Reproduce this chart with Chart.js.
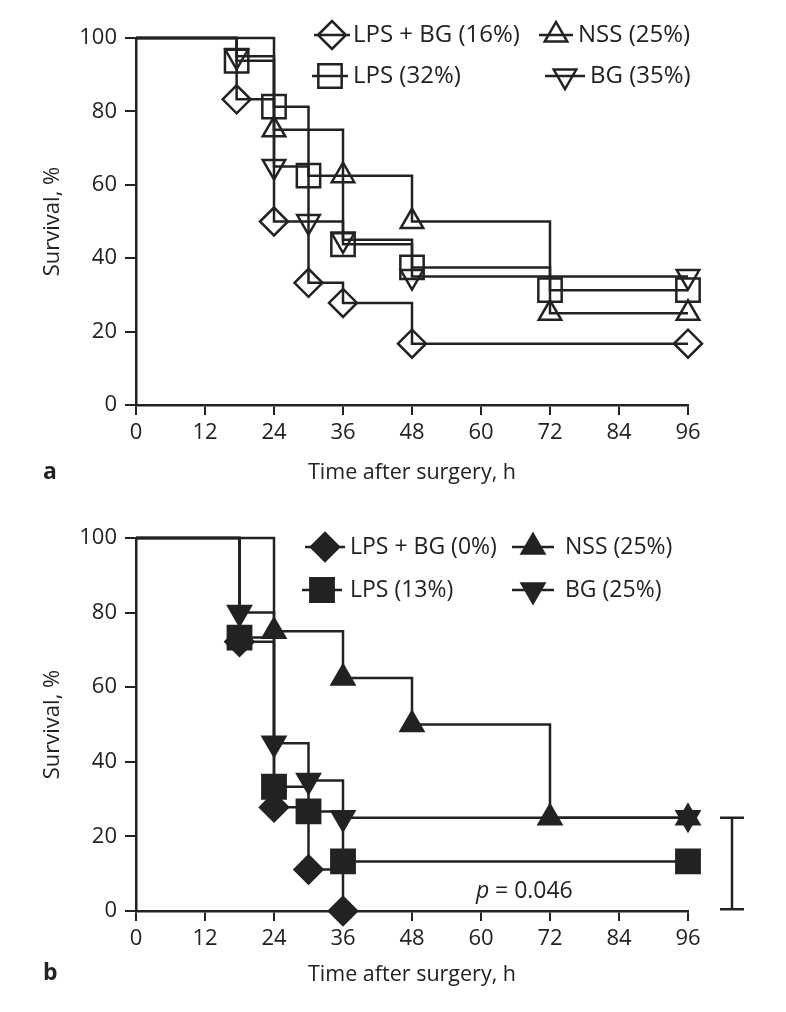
<!DOCTYPE html>
<html>
<head>
<meta charset="utf-8">
<title>Survival after surgery</title>
<script src="https://cdn.jsdelivr.net/npm/chart.js"></script>
<style>
    body { margin: 0; background: #fff; }
    .panel { position: absolute; left: 0; width: 786px; height: 506px; }
    #panelA { top: 0; }
    #panelB { top: 506px; }
</style>
</head>
<body>
<div class="panel" id="panelA"><canvas id="chartA" width="786" height="506"></canvas></div>
<div class="panel" id="panelB"><canvas id="chartB" width="786" height="506"></canvas></div>
<script>
// axis ticks
const hourTicks = [0, 12, 24, 36, 48, 60, 72, 84, 96];
const survivalTicks = [0, 20, 40, 60, 80, 100];
const groupNames = ['LPS + BG', 'LPS', 'NSS', 'BG'];

// panel a (open symbols)
const finalA = [16, 32, 25, 35];
const timeA_lpsbg = [0, 17.5, 24, 30, 36, 48, 96];
const survA_lpsbg = [100, 83.3, 50, 33.3, 27.8, 16.7, 16.7];
const timeA_lps = [0, 17.5, 24, 30, 36, 48, 72, 96];
const survA_lps = [100, 93.8, 81.3, 62.5, 43.8, 37.5, 31.3, 31.3];
const timeA_nss = [0, 24, 36, 48, 72, 96];
const survA_nss = [100, 75, 62.5, 50, 25, 25];
const timeA_bg = [0, 17.5, 24, 30, 36, 48, 96];
const survA_bg = [100, 95, 65, 50, 45, 35, 35];

// panel b (filled symbols)
const finalB = [0, 13, 25, 25];
const timeB_lpsbg = [0, 18, 24, 30, 36];
const survB_lpsbg = [100, 72.2, 27.8, 11.1, 0];
const timeB_lps = [0, 18, 24, 30, 36, 96];
const survB_lps = [100, 73.3, 33.3, 26.7, 13.3, 13.3];
const timeB_nss = [0, 24, 36, 48, 72, 96];
const survB_nss = [100, 75, 62.5, 50, 25, 25];
const timeB_bg = [0, 18, 24, 30, 36, 96];
const survB_bg = [100, 80, 45, 35, 25, 25];

const pValueText = '= 0.046';

const ink = '#222';
const font = '"Open Sans", "Noto Sans", sans-serif';

// marker shapes, in group order
const markers = [
    { pointStyle: 'rectRot', radius: 14, rotation: 0 },
    { pointStyle: 'rect', radius: 16.5, rotation: 0 },
    { pointStyle: 'triangle', radius: 13, rotation: 0 },
    { pointStyle: 'triangle', radius: 13, rotation: 180 }
];

function km(times, surv) {
    return times.map((t, i) => ({ x: t, y: surv[i] }));
}

function makeDataset(name, pct, times, surv, mk, filled) {
    return {
        label: name + ' (' + pct + '%)',
        data: km(times, surv),
        stepped: true,
        borderColor: ink,
        borderWidth: 2.5,
        clip: false,
        pointStyle: mk.pointStyle,
        pointRotation: mk.rotation,
        pointRadius: c => c.dataIndex === 0 ? 0 : mk.radius,
        pointHoverRadius: c => c.dataIndex === 0 ? 0 : mk.radius,
        pointBorderWidth: 2.5,
        pointBorderColor: ink,
        pointBackgroundColor: filled ? ink : 'rgba(0,0,0,0)'
    };
}

// legend, panel letter and extras drawn on top
function overlayPlugin(opts) {
    return {
        id: 'overlay',
        afterDraw(chart) {
            const ctx = chart.ctx;
            ctx.save();
            chart.data.datasets.forEach((ds, i) => {
                const it = opts.legend[i];
                const mk = markers[i];
                ctx.strokeStyle = ink;
                ctx.lineWidth = 2.5;
                ctx.beginPath();
                ctx.moveTo(it.mx - it.half, it.my);
                ctx.lineTo(it.mx + it.half, it.my);
                ctx.stroke();
                ctx.fillStyle = opts.filled ? ink : 'rgba(0,0,0,0)';
                Chart.helpers.drawPoint(ctx, {
                    pointStyle: mk.pointStyle,
                    radius: mk.radius,
                    rotation: mk.rotation,
                    borderWidth: 2.5
                }, it.mx, it.my);
                ctx.fillStyle = ink;
                ctx.font = opts.legendSize + 'px ' + font;
                ctx.textAlign = 'left';
                ctx.textBaseline = 'middle';
                ctx.fillText(ds.label, it.tx, it.my);
            });
            ctx.font = 'bold 23px ' + font;
            ctx.fillStyle = ink;
            ctx.textBaseline = 'middle';
            ctx.fillText(opts.letter, 43, opts.letterY);
            if (opts.extra) opts.extra(chart, ctx);
            ctx.restore();
        }
    };
}

function makeOptions(top, bottomPad, titlePad) {
    return {
        responsive: false,
        animation: false,
        layout: { padding: { left: 0, right: 98, top: top, bottom: 0 } },
        plugins: { legend: { display: false }, tooltip: { enabled: false } },
        scales: {
            x: {
                type: 'linear',
                min: 0,
                max: 96,
                afterBuildTicks: s => { s.ticks = hourTicks.map(v => ({ value: v })); },
                afterFit: s => { s.height = bottomPad; },
                grid: { drawOnChartArea: false, drawTicks: true, tickLength: 10, color: ink, lineWidth: 2 },
                border: { color: ink, width: 2.5 },
                ticks: { color: ink, font: { family: font, size: 22 }, padding: 5, maxRotation: 0 },
                title: {
                    display: true,
                    text: 'Time after surgery, h',
                    color: ink,
                    font: { family: font, size: 21.5 },
                    padding: { top: 0, bottom: titlePad }
                }
            },
            y: {
                min: 0,
                max: 100,
                afterBuildTicks: s => { s.ticks = survivalTicks.map(v => ({ value: v })); },
                afterFit: s => { s.width = 136; },
                grid: { drawOnChartArea: false, drawTicks: true, tickLength: 11, color: ink, lineWidth: 2 },
                border: { color: ink, width: 2.5 },
                ticks: { color: ink, font: { family: font, size: 22 }, padding: 8 },
                title: {
                    display: true,
                    text: 'Survival, %',
                    color: ink,
                    font: { family: font, size: 22 },
                    padding: { top: 40, bottom: 0 }
                }
            }
        }
    };
}

new Chart(document.getElementById('chartA'), {
    type: 'line',
    data: {
        datasets: [
            makeDataset(groupNames[0], finalA[0], timeA_lpsbg, survA_lpsbg, markers[0], false),
            makeDataset(groupNames[1], finalA[1], timeA_lps, survA_lps, markers[1], false),
            makeDataset(groupNames[2], finalA[2], timeA_nss, survA_nss, markers[2], false),
            makeDataset(groupNames[3], finalA[3], timeA_bg, survA_bg, markers[3], false)
        ]
    },
    options: makeOptions(38, 101, 20),
    plugins: [overlayPlugin({
        filled: false,
        legendSize: 24,
        letter: 'a',
        letterY: 472,
        legend: [
            { mx: 332, my: 35, half: 18, tx: 353 },
            { mx: 330, my: 76, half: 18, tx: 353 },
            { mx: 556, my: 35, half: 17, tx: 578 },
            { mx: 565, my: 76, half: 20, tx: 590 }
        ]
    })]
});

new Chart(document.getElementById('chartB'), {
    type: 'line',
    data: {
        datasets: [
            makeDataset(groupNames[0], finalB[0], timeB_lpsbg, survB_lpsbg, markers[0], true),
            makeDataset(groupNames[1], finalB[1], timeB_lps, survB_lps, markers[1], true),
            makeDataset(groupNames[2], finalB[2], timeB_nss, survB_nss, markers[2], true),
            makeDataset(groupNames[3], finalB[3], timeB_bg, survB_bg, markers[3], true)
        ]
    },
    options: makeOptions(32, 101, 24),
    plugins: [overlayPlugin({
        filled: true,
        legendSize: 23,
        letter: 'b',
        letterY: 467,
        legend: [
            { mx: 325, my: 41, half: 20, tx: 350 },
            { mx: 322, my: 84, half: 20, tx: 350 },
            { mx: 533, my: 41, half: 21, tx: 565 },
            { mx: 533, my: 84, half: 21, tx: 565 }
        ],
        extra(chart, ctx) {
            const y = chart.scales.y;
            const bx = chart.chartArea.right + 44;
            const yTop = y.getPixelForValue(finalB[3]);
            const yBot = y.getPixelForValue(0.5);
            ctx.strokeStyle = ink;
            ctx.lineWidth = 2.5;
            ctx.beginPath();
            ctx.moveTo(bx, yTop); ctx.lineTo(bx, yBot);
            ctx.moveTo(bx - 12, yTop); ctx.lineTo(bx + 12, yTop);
            ctx.moveTo(bx - 12, yBot); ctx.lineTo(bx + 12, yBot);
            ctx.stroke();
            ctx.fillStyle = ink;
            ctx.textBaseline = 'middle';
            ctx.textAlign = 'left';
            ctx.font = 'italic 23px ' + font;
            ctx.fillText('p', 476, 385);
            ctx.font = '23px ' + font;
            ctx.fillText(pValueText, 495, 385);
        }
    })]
});
</script>
</body>
</html>
